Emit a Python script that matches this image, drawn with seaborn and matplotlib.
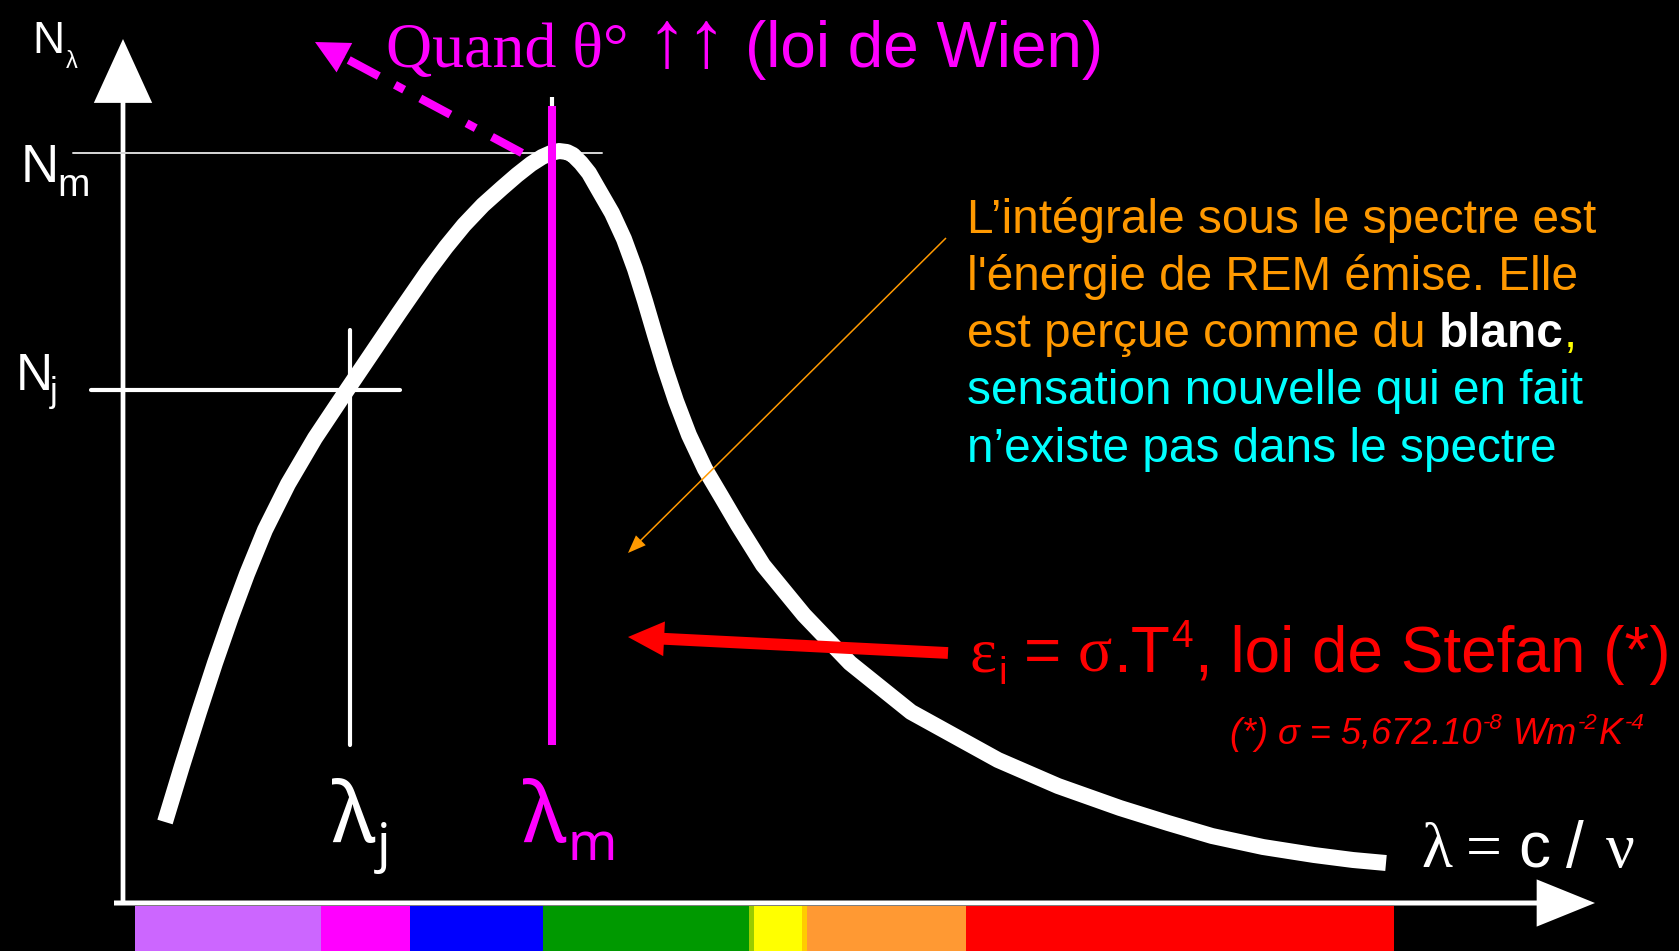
import matplotlib
matplotlib.use("Agg")
import matplotlib.pyplot as plt
import seaborn as sns

# ---------------- data (units: pixels-like, origin at the axes corner) ----------------
curve_x = [42, 59, 76, 92, 108, 124, 142, 165, 192, 224, 251, 276, 305, 323, 341, 360, 379,
           394, 408, 419, 428, 436, 444, 450, 458, 466, 474, 489, 501, 512, 522, 532, 542,
           553, 566, 582, 598, 615, 640, 681, 727, 788, 875, 935, 997, 1045, 1089, 1140,
           1191, 1230, 1263]
curve_y = [81, 137, 191, 240, 286, 329, 373, 419, 465, 513, 553, 590, 632, 656, 678, 698, 715,
           728, 739, 746, 750, 752, 751, 748, 740, 730, 716, 690, 664, 634, 602, 568, 535,
           502, 468, 434, 407, 378, 338, 288, 240, 191, 143, 117, 95, 80, 67, 56,
           48, 43, 40]

spectrum_left = [12, 198, 287, 420, 626, 631, 679, 684, 843]
spectrum_right = [198, 287, 420, 626, 631, 679, 684, 843, 1271]
spectrum_colors = ["#CC66FF", "#FF00FF", "#0000FF", "#009900", "#99CC00",
                   "#FFFF00", "#FFCC00", "#FF9933", "#FF0000"]

N_m = 750          # peak level
N_j = 513          # level at lambda_j
lambda_j = 227
lambda_m = 429

title_parts = ["Quand θ°", "↑↑", "(loi de Wien)"]
orange_lines = ["L’intégrale sous le spectre est", "l'énergie de REM émise. Elle", "est perçue comme du"]
white_word = "blanc"
cyan_lines = ["sensation nouvelle qui en fait", "n’existe pas dans le spectre"]
stefan_parts = ["ε", "i", "=", "σ", ".T", "4", ", loi de Stefan (*)"]
footnote_parts = ["(*) σ = 5,672.10", "-8", "Wm", "-2", "K", "-4"]
xlabel_parts = ["λ", "=", "c", "/", "ν"]

# ---------------- styling ----------------
MAG = "#FF00FF"
ORANGE = "#FF9900"
CYAN = "#00FFFF"
RED = "#FF0000"
SANS = ["Liberation Sans", "DejaVu Sans"]
SERIF = ["Liberation Serif", "DejaVu Serif"]
LAMF = ["Noto Sans", "DejaVu Sans"]

sns.set_theme(style="dark", rc={"axes.facecolor": "black", "figure.facecolor": "black"})
plt.rcParams["font.family"] = SANS

fig = plt.figure(figsize=(16.79, 9.51), dpi=100)
ax = fig.add_axes([0, 0, 1, 1])
ax.set_xlim(-123, 1556)
ax.set_ylim(-48, 903)
ax.set_axis_off()
ax.set_facecolor("black")


def arrow(start, end, tail, hw, hl, color, z=3):
    ax.annotate("", xy=end, xytext=start,
                arrowprops=dict(arrowstyle=f"simple,head_length={hl},head_width={hw},tail_width={tail}",
                                mutation_scale=1, color=color, lw=0, shrinkA=0, shrinkB=0),
                zorder=z)


def chain(x, y, pieces):
    """pieces: list of (text, dict(kw), dx_points, dy_points)"""
    prev = None
    for text, kw, dx, dy in pieces:
        if prev is None:
            prev = ax.text(x, y, text, ha="left", va="baseline", **kw)
        else:
            prev = ax.annotate(text, xy=(1, y), xycoords=(prev, "data"), xytext=(dx, dy),
                               textcoords="offset points", ha="left", va="baseline", **kw)
    return prev


# spectrum strip
widths = [r - l for l, r in zip(spectrum_left, spectrum_right)]
ax.bar(spectrum_left, height=-45, bottom=-3, width=widths, align="edge",
       color=spectrum_colors, linewidth=0, zorder=1)

# axes with arrow heads
arrow((0, -2), (0, 864), 3.4, 42, 46, "white")
arrow((-9, 0), (1472, 0), 3.6, 34, 42, "white")

# black-body spectrum curve
sns.lineplot(x=curve_x, y=curve_y, sort=False, estimator=None, color="white",
             linewidth=11.5, ax=ax, solid_capstyle="butt", solid_joinstyle="round", zorder=4)

# reference lines
ax.plot([-50, 479], [N_m, N_m], color="#D8D8D8", lw=1.4, zorder=3)
ax.plot([-32, 277], [N_j, N_j], color="white", lw=3, zorder=3)
ax.plot([lambda_j, lambda_j], [158, 573], color="white", lw=3, zorder=3)
ax.plot([lambda_m, lambda_m], [158, 797], color=MAG, lw=5.8, zorder=5, solid_capstyle="butt")
ax.plot([lambda_m, lambda_m], [797, 806], color="white", lw=3, zorder=5, solid_capstyle="butt")

# dash-dot Wien arrow
ax.plot([399, 222], [N_m, 845], color=MAG, lw=6, linestyle=(0, (4.1, 2.2, 1.25, 2.2)),
        dash_capstyle="butt", zorder=6)
arrow((222, 845), (192, 861), 0.1, 24, 24, MAG, z=6)

# orange annotation arrow and red Stefan arrow
arrow((823, 665), (505, 350), 1.1, 10, 13, ORANGE, z=6)
arrow((825, 250), (505, 266), 8.5, 25, 26, RED, z=6)

# axis labels N
ax.text(-91, 850, "N", fontsize=32, color="white", family=SANS)
ax.text(-57, 835, "λ", fontsize=17, color="white", family=SANS)
ax.text(-102, 721, "N", fontsize=38, color="white", family=SANS)
ax.text(-66, 707, "m", fontsize=28, color="white", family=SANS)
ax.text(-107, 513, "N", fontsize=37, color="white", family=SANS)
ax.text(-73, 501, "j", fontsize=25, color="white", family=SANS)

# lambda labels
chain(209, 61, [("λ", dict(fontsize=60, color="white", family=LAMF), 0, 0),
                ("j", dict(fontsize=38, color="white", family=LAMF), 1, -14)])
chain(400, 61, [("λ", dict(fontsize=60, color=MAG, family=LAMF), 0, 0),
                ("m", dict(fontsize=38, color=MAG, family=LAMF), 1, -13)])

# title
chain(263, 836, [(title_parts[0], dict(fontsize=46, color=MAG, family=SERIF), 0, 0),
                 (title_parts[1], dict(fontsize=58, color=MAG, family=SERIF), 13, 0),
                 (title_parts[2], dict(fontsize=46, color=MAG, family=SANS), 13, 0)])

# orange / cyan text block
T = 34.4
base_y = [670, 613, 556, 499, 441]
for i, line in enumerate(orange_lines[:2]):
    ax.text(844, base_y[i], line, fontsize=T, color=ORANGE, family=SANS, va="baseline")
chain(844, base_y[2], [(orange_lines[2], dict(fontsize=T, color=ORANGE, family=SANS), 0, 0),
                       (white_word, dict(fontsize=T, color="white", family=SANS, weight="bold"), 9.5, 0),
                       (",", dict(fontsize=T, color="#FFFF00", family=SANS), 0.5, 0)])
for i, line in enumerate(cyan_lines):
    ax.text(844, base_y[3 + i], line, fontsize=T, color=CYAN, family=SANS, va="baseline")

# Stefan law text
S = 46
chain(847, 231, [(stefan_parts[0], dict(fontsize=S, color=RED, family=SERIF), 0, 0),
                 (stefan_parts[1], dict(fontsize=28, color=RED, family=SANS), 1, -9),
                 (stefan_parts[2], dict(fontsize=S, color=RED, family=SANS), 12, 0),
                 (stefan_parts[3], dict(fontsize=S, color=RED, family=SERIF), 12, 0),
                 (stefan_parts[4], dict(fontsize=S, color=RED, family=SANS), 1, 0),
                 (stefan_parts[5], dict(fontsize=28, color=RED, family=SANS), 1, 18),
                 (stefan_parts[6], dict(fontsize=S, color=RED, family=SANS), 1, 0)])

# footnote
F = dict(color=RED, family=SANS, style="italic")
chain(1107, 159, [(footnote_parts[0], dict(fontsize=26, **F), 0, 0),
                  (footnote_parts[1], dict(fontsize=16, **F), 1, 11),
                  (footnote_parts[2], dict(fontsize=26, **F), 7, 0),
                  (footnote_parts[3], dict(fontsize=16, **F), 1, 11),
                  (footnote_parts[4], dict(fontsize=26, **F), 1, 0),
                  (footnote_parts[5], dict(fontsize=16, **F), 1, 11)])

# x-axis label
chain(1298, 36, [(xlabel_parts[0], dict(fontsize=46, color="white", family=SERIF), 0, 0),
                 (xlabel_parts[1], dict(fontsize=46, color="white", family=SERIF), 10, 0),
                 (xlabel_parts[2], dict(fontsize=46, color="white", family=SANS), 12, 0),
                 (xlabel_parts[3], dict(fontsize=46, color="white", family=SANS), 11, 0),
                 (xlabel_parts[4], dict(fontsize=46, color="white", family=SERIF), 16, 0)])

fig.savefig("out.png", dpi=100, facecolor="black")
